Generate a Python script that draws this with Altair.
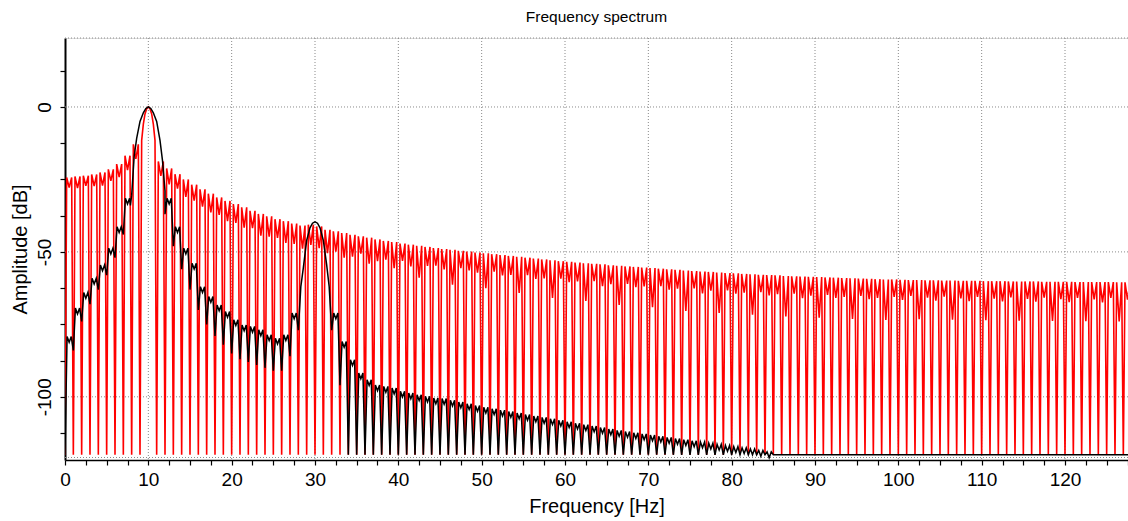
import altair as alt
import pandas as pd

# ---------------- values ----------------
X_MAX = 127.56
Y_MIN, Y_MAX = -121.8, 23.8
FLOOR = -120.0

# Red trace (rectangular window): peak level of each 1-Hz side lobe k (k .. k+1 Hz), dB
red_lobe_peak = [
    -24.3, -24.0, -23.7, -23.3, -22.6, -21.5, -19.7, -16.8, -12.9, None,
    None, -18.8, -21.2, -23.2, -25.0, -26.8, -28.4, -29.9, -31.2, -32.4,
    -33.5, -34.6, -35.8, -36.9, -37.7, -38.7, -39.4, -40.2, -40.9, -40.6,
    -41.2, -42.4, -42.9, -43.5, -44.1, -44.6, -45.1, -45.7, -46.2, -46.6,
    -47.1, -47.5, -47.9, -48.3, -48.7, -49.0, -49.3, -49.6, -49.9, -50.2,
    -50.5, -50.8, -51.1, -51.4, -51.7, -52.0, -52.3, -52.6, -52.9, -53.2,
    -53.4, -53.7, -53.9, -54.1, -54.3, -54.6, -54.8, -55.0, -55.2, -55.4,
    -55.6, -55.8, -56.0, -56.2, -56.4, -56.6, -56.8, -56.9, -57.1, -57.3,
    -57.4, -57.6, -57.7, -57.9, -58.0, -58.1, -58.3, -58.4, -58.5, -58.6,
    -58.7, -58.8, -58.9, -59.0, -59.1, -59.2, -59.3, -59.4, -59.5, -59.5,
    -59.6, -59.7, -59.7, -59.8, -59.8, -59.9, -59.9, -60.0, -60.0, -60.0,
    -60.1, -60.1, -60.1, -60.2, -60.2, -60.2, -60.2, -60.3, -60.3, -60.3,
    -60.3, -60.4, -60.4, -60.4, -60.4, -60.4, -60.5, -60.5,
]
# depth of the small notch in the middle of each red side lobe, dB below its peak
red_lobe_notch = [
    3.5, 4.0, 3.5, 4.0, 4.5, 4.0, 4.5, 5.0, 5.0, 0.0,
    0.0, 5.0, 5.5, 5.0, 6.0, 5.5, 6.0, 6.5, 6.0, 7.0,
    6.5, 7.0, 6.0, 7.5, 7.0, 6.5, 7.5, 7.0, 8.0, 7.0,
    7.5, 8.0, 7.0, 8.5, 7.5, 6.0, 9.0, 7.5, 6.5, 9.0,
    6.0, 7.5, 11.0, 6.5, 6.0, 7.0, 12.0, 6.0, 6.5, 7.0,
    12.0, 6.0, 7.0, 6.5, 12.5, 6.0, 7.0, 6.5, 13.0, 6.0,
    7.0, 6.5, 13.0, 6.0, 7.5, 6.5, 13.5, 6.0, 7.0, 6.5,
    13.5, 6.0, 7.0, 6.5, 14.0, 6.0, 7.5, 6.5, 14.0, 6.0,
    7.0, 6.5, 14.0, 6.0, 7.0, 6.5, 14.0, 6.0, 7.5, 6.5,
    14.0, 6.0, 7.0, 6.5, 14.0, 6.0, 7.0, 6.5, 14.0, 6.0,
    7.0, 5.5, 13.5, 6.0, 7.0, 5.5, 13.5, 6.0, 7.0, 5.5,
    13.5, 6.0, 7.0, 5.5, 13.5, 6.0, 7.0, 5.5, 13.5, 6.0,
    7.0, 5.5, 13.5, 6.0, 7.0, 5.5, 13.5, 6.0,
]
# red main lobe around 10 Hz
red_main_f = [9.0, 9.2, 9.4, 9.6, 9.8, 10.0, 10.2, 10.4, 10.6, 10.8, 11.0]
red_main_db = [-120.0, -11.5, -5.9, -2.4, -0.6, 0.0, -0.6, -2.4, -5.9, -11.5, -120.0]

# Black trace (window applied): lobes below 8 Hz
black_low_k = [0, 1, 2, 3, 4, 5, 6, 7]
black_low_floor = [-120.0, -84.0, -74.0, -68.0, -63.0, -58.0, -52.0, -44.0]
black_low_peak = [-79.2, -69.4, -64.0, -59.1, -54.5, -48.7, -41.3, -31.5]
# main lobe at 10 Hz
black_main1_f = [7.85, 8.0, 8.3, 8.6, 9.0, 9.4, 9.7, 10.0, 10.3, 10.6, 11.0, 11.4, 11.7, 12.0]
black_main1_db = [-34.0, -30.5, -17.0, -10.8, -5.0, -2.0, -0.5, 0.0, -0.5, -2.0, -5.0, -11.5, -18.5, -29.0]
# lobes between the two tones
black_mid_k = list(range(12, 28))
black_mid_floor = [-37.0, -48.0, -56.0, -63.0, -70.0, -75.0, -79.0, -82.0,
                   -85.0, -87.0, -88.0, -89.0, -90.0, -91.0, -91.0, -86.0]
black_mid_peak = [-31.5, -41.3, -48.7, -53.9, -62.0, -65.4, -68.3, -70.6,
                  -73.4, -75.2, -75.7, -76.9, -78.6, -79.8, -78.6, -71.1]
# main lobe at 30 Hz
black_main2_f = [28.0, 28.3, 28.6, 29.0, 29.4, 29.7, 30.0, 30.3, 30.6, 31.0, 31.4, 31.7, 32.0]
black_main2_db = [-77.0, -62.0, -55.5, -46.0, -41.7, -40.1, -39.6, -40.1, -41.7, -46.0, -54.5, -62.0, -77.0]
# high-frequency lobes
black_high_k = list(range(32, 85))
black_high_floor = [-77.0, -96.0] + [-120.0] * 51
black_high_peak = [
    -71.1, -80.9, -87.2, -91.8, -94.1, -95.9, -96.4, -97.0, -98.1, -98.7,
    -99.3, -99.8, -100.4, -100.6, -101.2, -101.8, -102.4, -103.0, -103.6, -104.1,
    -104.6, -105.1, -105.6, -106.1, -106.6, -107.1, -107.6, -108.1, -108.6, -109.1,
    -109.6, -110.1, -110.6, -111.1, -111.6, -112.0, -112.4, -112.8, -113.2, -113.6,
    -114.0, -114.4, -114.8, -115.2, -115.6, -116.0, -116.4, -116.8, -117.2, -117.6,
    -118.0, -118.5, -119.0,
]
black_notch = 2.0

x_ticks = [i * 2.5 for i in range(52)]
y_ticks = [-112.5 + 12.5 * i for i in range(11)]
x_grid = [10, 20, 30, 40, 50, 60, 70, 80, 90, 100, 110, 120]
y_grid = [0, -50, -100]


# ---------------- build the line tables ----------------
def red_points():
    pts = []
    for k, (pk, nt) in enumerate(zip(red_lobe_peak, red_lobe_notch)):
        if k == 9:
            pts += list(zip(red_main_f[:-1], red_main_db[:-1]))
            continue
        if k == 10:
            continue
        pts += [(k, FLOOR), (k + 0.2, pk), (k + 0.5, pk - nt), (k + 0.8, pk)]
    pts.append((128, FLOOR))
    return pts


def lobes(ks, floors, peaks):
    pts = []
    for k, fl, pk in zip(ks, floors, peaks):
        pts += [(k, fl), (k + 0.25, pk), (k + 0.5, pk - black_notch), (k + 0.75, pk)]
    return pts


def black_points():
    pts = lobes(black_low_k, black_low_floor, black_low_peak)
    pts += list(zip(black_main1_f, black_main1_db))
    pts += lobes(black_mid_k, black_mid_floor, black_mid_peak)
    pts += list(zip(black_main2_f, black_main2_db))
    pts += lobes(black_high_k, black_high_floor, black_high_peak)
    pts += [(85, FLOOR), (128, FLOOR)]
    return pts


red_df = pd.DataFrame(red_points(), columns=["f", "db"]).reset_index()
black_df = pd.DataFrame(black_points(), columns=["f", "db"]).reset_index()

FONT = "Liberation Sans"
xs = alt.Scale(domain=[0, X_MAX], nice=False, zero=False)
ys = alt.Scale(domain=[Y_MIN, Y_MAX], nice=False, zero=False)

x_axis = alt.Axis(
    values=x_ticks,
    labelExpr="datum.value % 10 === 0 ? datum.label : ''",
    grid=False, tickSize=5, tickWidth=1.2, tickColor="black",
    domainColor="black", domainWidth=1.5,
    labelFont=FONT, labelFontSize=19, labelColor="black", labelPadding=5,
    labelFlush=False, labelOverlap=False,
    titleFont=FONT, titleFontSize=20, titleFontWeight="normal", titleColor="black",
    titlePadding=7,
)
y_axis = alt.Axis(
    values=y_ticks,
    labelExpr="datum.value % 50 === 0 ? '' + datum.value : ''",
    labelAngle=270, labelAlign="center", labelBaseline="bottom",
    grid=False, tickSize=5, tickWidth=1.2, tickColor="black",
    domainColor="black", domainWidth=2,
    labelFont=FONT, labelFontSize=19, labelColor="black", labelPadding=6,
    labelOverlap=False,
    titleFont=FONT, titleFontSize=20, titleFontWeight="normal", titleColor="black",
    titlePadding=5,
)

X_ENC = dict(scale=xs, axis=x_axis, title="Frequency [Hz]")
Y_ENC = dict(scale=ys, axis=y_axis, title="Amplitude [dB]")

grid_style = dict(color="#8a8a8a", strokeDash=[1, 2], strokeWidth=1)

vgrid = alt.Chart(pd.DataFrame({"f": x_grid})).mark_rule(**grid_style).encode(
    x=alt.X("f:Q", **X_ENC)
)
hgrid = alt.Chart(pd.DataFrame({"db": y_grid})).mark_rule(**grid_style).encode(
    y=alt.Y("db:Q", **Y_ENC)
)
top_frame = alt.Chart(pd.DataFrame({"a": [0]})).mark_rule(**grid_style).encode(
    x=alt.value(0), x2=alt.value(1063), y=alt.value(0)
)
bottom_frame = alt.Chart(pd.DataFrame({"a": [0]})).mark_rule(**grid_style).encode(
    x=alt.value(0), x2=alt.value(1063), y=alt.value(419.5)
)

red = alt.Chart(red_df).mark_line(color="#ff0000", strokeWidth=1.6, clip=True).encode(
    x=alt.X("f:Q", **X_ENC),
    y=alt.Y("db:Q", **Y_ENC),
    order="index:Q",
)
black = alt.Chart(black_df).mark_line(color="#000000", strokeWidth=1.5, clip=True).encode(
    x=alt.X("f:Q", **X_ENC),
    y=alt.Y("db:Q", **Y_ENC),
    order="index:Q",
)

chart = alt.layer(vgrid, hgrid, top_frame, bottom_frame, red, black).properties(
    width=1063,
    height=422,
    title=alt.TitleParams("Frequency spectrum", font=FONT, fontSize=15.5, fontWeight="normal",
                          color="black", anchor="middle", offset=12),
    padding={"left": 65, "top": 38, "right": 0, "bottom": 61},
    autosize=alt.AutoSizeParams(type="none"),
).configure_view(stroke=None).configure(background="white")

chart.save("out.html", embed_options={"renderer": "svg", "actions": False})
